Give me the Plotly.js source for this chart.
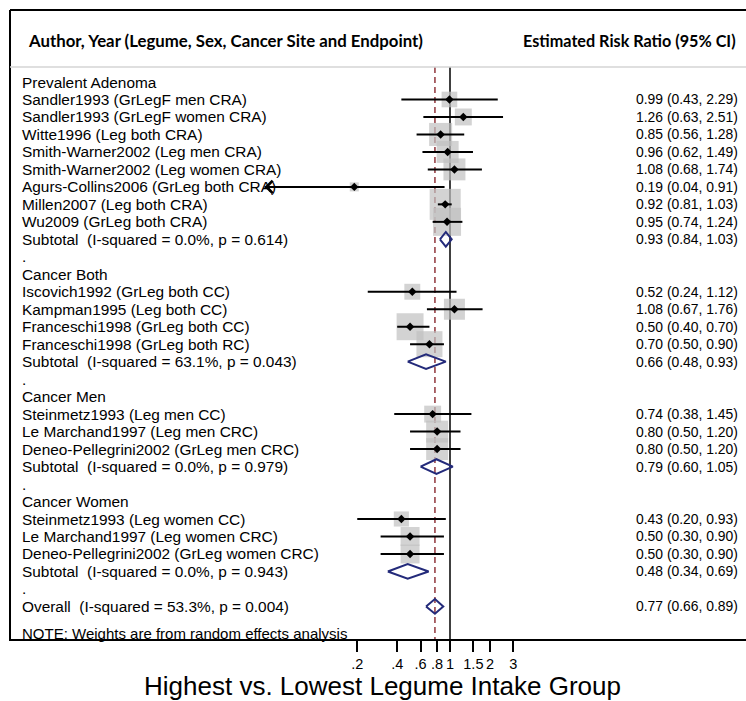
<!DOCTYPE html>
<html>
<head>
<meta charset="utf-8">
<script src="https://cdn.plot.ly/plotly-3.0.1.min.js"></script>
<style>html,body{margin:0;padding:0;background:#fff;}#chart{width:746px;height:701px;}</style>
</head>
<body>
<div id="chart"></div>
<script>
// ---------- DATA ----------
const labels = [
  "Prevalent Adenoma",
  "Sandler1993 (GrLegF men CRA)",
  "Sandler1993 (GrLegF women CRA)",
  "Witte1996 (Leg both CRA)",
  "Smith-Warner2002 (Leg men CRA)",
  "Smith-Warner2002 (Leg women CRA)",
  "Agurs-Collins2006 (GrLeg both CRA)",
  "Millen2007 (Leg both CRA)",
  "Wu2009 (GrLeg both CRA)",
  "Subtotal  (I-squared = 0.0%, p = 0.614)",
  ".",
  "Cancer Both",
  "Iscovich1992 (GrLeg both CC)",
  "Kampman1995 (Leg both CC)",
  "Franceschi1998 (GrLeg both CC)",
  "Franceschi1998 (GrLeg both RC)",
  "Subtotal  (I-squared = 63.1%, p = 0.043)",
  ".",
  "Cancer Men",
  "Steinmetz1993 (Leg men CC)",
  "Le Marchand1997 (Leg men CRC)",
  "Deneo-Pellegrini2002 (GrLeg men CRC)",
  "Subtotal  (I-squared = 0.0%, p = 0.979)",
  ".",
  "Cancer Women",
  "Steinmetz1993 (Leg women CC)",
  "Le Marchand1997 (Leg women CRC)",
  "Deneo-Pellegrini2002 (GrLeg women CRC)",
  "Subtotal  (I-squared = 0.0%, p = 0.943)",
  ".",
  "Overall  (I-squared = 53.3%, p = 0.004)"
];
const kind = [
  "group","study","study","study","study","study","study","study","study","sub","blank",
  "group","study","study","study","study","sub","blank",
  "group","study","study","study","sub","blank",
  "group","study","study","study","sub","blank",
  "overall"
];
const rr = [null,0.99,1.26,0.85,0.96,1.08,0.19,0.92,0.95,0.93,null,
  null,0.52,1.08,0.50,0.70,0.66,null,
  null,0.74,0.80,0.80,0.79,null,
  null,0.43,0.50,0.50,0.48,null,
  0.77];
const lo = [null,0.43,0.63,0.56,0.62,0.68,0.04,0.81,0.74,0.84,null,
  null,0.24,0.67,0.40,0.50,0.48,null,
  null,0.38,0.50,0.50,0.60,null,
  null,0.20,0.30,0.30,0.34,null,
  0.66];
const hi = [null,2.29,2.51,1.28,1.49,1.74,0.91,1.03,1.24,1.03,null,
  null,1.12,1.76,0.70,0.90,0.93,null,
  null,1.45,1.20,1.20,1.05,null,
  null,0.93,0.90,0.90,0.69,null,
  0.89];
// random-effects weights (%)
const weights = [null,3.0,3.5,6.5,5.9,5.9,1.0,11.8,9.6,null,null,
  null,3.1,5.4,8.9,8.3,null,null,
  null,3.5,5.9,5.9,null,null,
  null,2.8,4.4,4.4,null,null,
  null];
const nullValue = 1;
const tickVals = [0.2,0.4,0.6,0.8,1,1.5,2,3];
const tickText = [".2",".4",".6",".8","1","1.5","2","3"];
const headerLeft = "Author, Year (Legume, Sex, Cancer Site and Endpoint)";
const headerRight = "Estimated Risk Ratio (95% CI)";
const noteText = "NOTE: Weights are from random effects analysis";
const axisTitle = "Highest vs. Lowest Legume Intake Group";

// ---------- LAYOUT GEOMETRY ----------
const W = 746, H = 701;
const X1 = 450, PXDEC = 132.7;   // pixel of RR=1, pixels per decade
const Y0 = 82, ROWH = 17.48;     // pixel of row 0, row height
const px = x => x / W;
const py = y => 1 - y / H;
const rowAtPx = y => (y - Y0) / ROWH;
const FONT = "Liberation Sans, Arial, sans-serif";
const overallIdx = kind.indexOf("overall");

const rows = labels.map((_, i) => i);
const traces = [];

// reference lines (null effect, overall estimate)
const yTop = rowAtPx(67), yBot = rowAtPx(640);
traces.push({type: "scatter", mode: "lines", hoverinfo: "skip",
  x: [nullValue, nullValue], y: [yTop, yBot], line: {color: "#000", width: 1.5}});
traces.push({type: "scatter", mode: "lines", hoverinfo: "skip",
  x: [rr[overallIdx], rr[overallIdx]], y: [yTop, yBot],
  line: {color: "#90353b", width: 1.5, dash: "6px,4px"}});

// grey weight boxes
const sIdx = rows.filter(i => kind[i] === "study");
traces.push({
  type: "scatter", mode: "markers", hoverinfo: "skip",
  x: sIdx.map(i => rr[i]), y: sIdx,
  marker: {symbol: "square", color: "#c0c0c0", size: sIdx.map(i => 9.04 * Math.sqrt(weights[i])), line: {width: 0}}
});
// CI lines
const cx = [], cy = [];
sIdx.forEach(i => { cx.push(lo[i], hi[i], null); cy.push(i, i, null); });
traces.push({type: "scatter", mode: "lines", hoverinfo: "skip", x: cx, y: cy,
  line: {color: "#000", width: 2}});
// point estimates
traces.push({type: "scatter", mode: "markers", hoverinfo: "skip",
  x: sIdx.map(i => rr[i]), y: sIdx,
  marker: {symbol: "diamond", color: "#000", size: 6.5}});
// pooled diamonds
const dx = [], dy = [];
rows.filter(i => kind[i] === "sub" || kind[i] === "overall").forEach(i => {
  const h = 0.42;
  dx.push(lo[i], rr[i], hi[i], rr[i], lo[i], null);
  dy.push(i, i - h, i, i + h, i, null);
});
traces.push({type: "scatter", mode: "lines", hoverinfo: "skip", x: dx, y: dy,
  line: {color: "#232a7a", width: 2}});

// ---------- ANNOTATIONS ----------
const ann = [];
rows.forEach(i => {
  ann.push({xref: "paper", yref: "y", x: px(20), y: i, text: labels[i], showarrow: false,
    xanchor: "left", yanchor: "middle", font: {family: FONT, size: 15.4, color: "#000"}});
  if (rr[i] !== null) {
    ann.push({xref: "paper", yref: "y", x: px(634), y: i,
      text: rr[i].toFixed(2) + " (" + lo[i].toFixed(2) + ", " + hi[i].toFixed(2) + ")",
      showarrow: false, xanchor: "left", yanchor: "middle",
      font: {family: FONT, size: 13.9, color: "#000"}});
  }
});
ann.push({xref: "paper", yref: "paper", x: px(20), y: py(633), text: noteText, showarrow: false,
  xanchor: "left", yanchor: "middle", font: {family: FONT, size: 15, color: "#000"}});
ann.push({xref: "paper", yref: "paper", x: px(26), y: py(41), text: "<b>" + headerLeft + "</b>", showarrow: false,
  xanchor: "left", yanchor: "middle", font: {family: "Lato, sans-serif", size: 16.8, color: "#000"}});
ann.push({xref: "paper", yref: "paper", x: px(521), y: py(41), text: "<b>" + headerRight + "</b>", showarrow: false,
  xanchor: "left", yanchor: "middle", font: {family: "Lato, sans-serif", size: 16.2, color: "#000"}});
ann.push({xref: "paper", yref: "paper", x: px(382), y: py(686), text: axisTitle, showarrow: false,
  xanchor: "center", yanchor: "middle", font: {family: FONT, size: 26, color: "#000"}});
// arrow for truncated CI
const agurs = labels.indexOf("Agurs-Collins2006 (GrLeg both CRA)");
ann.push({xref: "x", yref: "y", axref: "x", ayref: "y",
  x: Math.log10(lo[agurs]), y: agurs, ax: Math.log10(lo[agurs]) + 0.12, ay: agurs,
  text: "", showarrow: true, arrowhead: 4, arrowsize: 1.2, arrowwidth: 2, arrowcolor: "#000", standoff: 0});

// ---------- SHAPES (frame) ----------
const shapes = [
  {type: "line", xref: "paper", yref: "paper", x0: px(10), x1: px(746), y0: py(10), y1: py(10), line: {color: "#000", width: 2}},
  {type: "line", xref: "paper", yref: "paper", x0: px(10), x1: px(10), y0: py(10), y1: py(641), line: {color: "#000", width: 2}},
  {type: "line", xref: "paper", yref: "paper", x0: px(10), x1: px(746), y0: py(67), y1: py(67), line: {color: "#d4d4d4", width: 1.5}},
  {type: "line", xref: "paper", yref: "paper", x0: px(9), x1: px(746), y0: py(640), y1: py(640), line: {color: "#000", width: 2}}
];

const layout = {
  width: W, height: H, margin: {l: 0, r: 0, t: 0, b: 0},
  paper_bgcolor: "#fff", plot_bgcolor: "rgba(0,0,0,0)", showlegend: false,
  xaxis: {type: "log", range: [(0 - X1) / PXDEC, (W - X1) / PXDEC], domain: [0, 1],
    anchor: "free", position: py(640), showline: false, showgrid: false, zeroline: false,
    tickmode: "array", tickvals: tickVals, ticktext: tickText, tickangle: 0,
    ticks: "outside", ticklen: 11, tickwidth: 2, tickcolor: "#000",
    tickfont: {family: FONT, size: 14.5, color: "#000"}, fixedrange: true},
  yaxis: {range: [(H - Y0) / ROWH, (0 - Y0) / ROWH], visible: false, fixedrange: true},
  annotations: ann, shapes: shapes
};
Plotly.newPlot("chart", traces, layout, {displayModeBar: false, staticPlot: true});
</script>
</body>
</html>
